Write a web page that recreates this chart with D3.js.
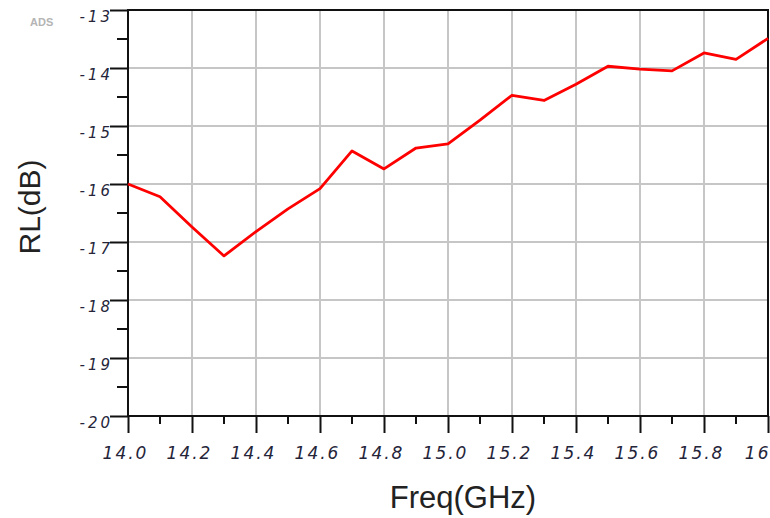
<!DOCTYPE html>
<html>
<head>
<meta charset="utf-8">
<script src="https://cdn.jsdelivr.net/npm/d3@7"></script>
<style>
  body { margin: 0; background: #fff; }
  .tick-label { font-family: "DejaVu Sans", sans-serif; font-style: italic; fill: #25253a; }
  .title { font-family: "Liberation Sans", Arial, sans-serif; fill: #222; }
</style>
</head>
<body>
<div id="chart"></div>
<script>
var width = 770,
  height = 518;

// frequency (GHz) and return loss (dB)
var freq = [14.0, 14.1, 14.2, 14.3, 14.4, 14.5, 14.6, 14.7, 14.8, 14.9, 15.0,
            15.1, 15.2, 15.3, 15.4, 15.5, 15.6, 15.7, 15.8, 15.9, 16.0];
var rl = [-16.0, -16.22, -16.74, -17.24, -16.82, -16.43, -16.08, -15.43, -15.74, -15.38, -15.31,
          -14.9, -14.47, -14.56, -14.28, -13.97, -14.02, -14.05, -13.74, -13.85, -13.49];

var xTicks = [14.0, 14.2, 14.4, 14.6, 14.8, 15.0, 15.2, 15.4, 15.6, 15.8, 16.0];
var xTickLabels = ["14.0", "14.2", "14.4", "14.6", "14.8", "15.0", "15.2", "15.4", "15.6", "15.8", "16"];
var yTicks = [-13, -14, -15, -16, -17, -18, -19, -20];
var xMinor = [14.1, 14.3, 14.5, 14.7, 14.9, 15.1, 15.3, 15.5, 15.7, 15.9];
var yMinor = [-13.5, -14.5, -15.5, -16.5, -17.5, -18.5, -19.5];

var plotL = 128, plotR = 768, plotT = 10, plotB = 416;

var svg = d3.select("#chart")
  .append("svg")
  .attr("width", width)
  .attr("height", height)

var x = d3.scaleLinear().domain([14, 16]).range([plotL, plotR])
var y = d3.scaleLinear().domain([-20, -13]).range([plotB, plotT])

// grid
svg.append("g")
  .selectAll("line")
  .data(xTicks.slice(1, -1))
  .enter().append("line")
  .attr("x1", function(d) { return x(d) })
  .attr("x2", function(d) { return x(d) })
  .attr("y1", plotT)
  .attr("y2", plotB)
  .attr("stroke", "#c6c6c6")
  .attr("stroke-width", 2)

svg.append("g")
  .selectAll("line")
  .data(yTicks.slice(1, -1))
  .enter().append("line")
  .attr("x1", plotL)
  .attr("x2", plotR)
  .attr("y1", function(d) { return y(d) })
  .attr("y2", function(d) { return y(d) })
  .attr("stroke", "#c6c6c6")
  .attr("stroke-width", 2)

// frame
svg.append("rect")
  .attr("x", plotL)
  .attr("y", plotT)
  .attr("width", plotR - plotL)
  .attr("height", plotB - plotT)
  .attr("fill", "none")
  .attr("stroke", "#111")
  .attr("stroke-width", 2)

// y axis ticks + labels
var yAxis = d3.axisLeft(y).tickValues(yTicks).tickSize(18).tickFormat(d3.format("d"))
var gy = svg.append("g")
  .attr("transform", "translate(" + plotL + ",0)")
  .call(yAxis)
gy.select(".domain").remove()
gy.selectAll(".tick line").attr("stroke", "#111").attr("stroke-width", 2)
gy.selectAll(".tick text")
  .attr("class", "tick-label")
  .attr("x", -15)
  .attr("y", 6)
  .attr("dy", "0.35em")
  .style("font-size", "15px")
  .style("letter-spacing", "3px")
  .text(function(d) { return String(d) })

svg.append("g")
  .selectAll("line")
  .data(yMinor)
  .enter().append("line")
  .attr("x1", plotL - 11)
  .attr("x2", plotL)
  .attr("y1", function(d) { return y(d) })
  .attr("y2", function(d) { return y(d) })
  .attr("stroke", "#111")
  .attr("stroke-width", 2)

// x axis ticks + labels
var xAxis = d3.axisBottom(x).tickValues(xTicks).tickSize(17)
  .tickFormat(function(d, i) { return xTickLabels[i] })
var gx = svg.append("g")
  .attr("transform", "translate(0," + plotB + ")")
  .call(xAxis)
gx.select(".domain").remove()
gx.selectAll(".tick line").attr("stroke", "#111").attr("stroke-width", 2)
gx.selectAll(".tick text")
  .attr("class", "tick-label")
  .attr("x", -3)
  .attr("y", 37)
  .attr("dy", "0.35em")
  .style("font-size", "17px")
  .style("letter-spacing", "2px")
// last label sits against the right edge
gx.selectAll(".tick text")
  .filter(function(d) { return d === 16 })
  .attr("text-anchor", "end")
  .attr("x", 2)

svg.append("g")
  .selectAll("line")
  .data(xMinor)
  .enter().append("line")
  .attr("x1", function(d) { return x(d) })
  .attr("x2", function(d) { return x(d) })
  .attr("y1", plotB)
  .attr("y2", plotB + 8)
  .attr("stroke", "#111")
  .attr("stroke-width", 2)

// curve
var points = freq.map(function(f, i) { return [f, rl[i]] })
var line = d3.line()
  .x(function(d) { return x(d[0]) })
  .y(function(d) { return y(d[1]) })

svg.append("path")
  .datum(points)
  .attr("fill", "none")
  .attr("stroke", "#ff0000")
  .attr("stroke-width", 2.8)
  .attr("stroke-linejoin", "round")
  .attr("d", line)

// titles
svg.append("text")
  .attr("class", "title")
  .attr("x", 463)
  .attr("y", 508)
  .attr("text-anchor", "middle")
  .style("font-size", "31px")
  .text("Freq(GHz)")

svg.append("text")
  .attr("class", "title")
  .attr("transform", "translate(40,207) rotate(-90)")
  .attr("text-anchor", "middle")
  .style("font-size", "30px")
  .text("RL(dB)")

svg.append("text")
  .attr("x", 30)
  .attr("y", 26)
  .style("font-family", "Liberation Sans, Arial, sans-serif")
  .style("font-size", "11px")
  .style("font-weight", "bold")
  .attr("fill", "#b4b4b4")
  .text("ADS")
</script>
</body>
</html>
